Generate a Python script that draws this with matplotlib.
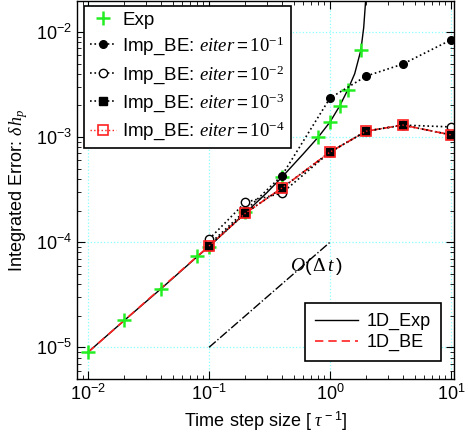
import numpy as np
import matplotlib
matplotlib.use("Agg")
from matplotlib import pyplot as plt
from matplotlib.ticker import LogLocator, NullFormatter

plt.rcParams['font.family'] = ['Liberation Sans', 'DejaVu Sans']
plt.rcParams['mathtext.fontset'] = 'custom'
plt.rcParams['mathtext.rm'] = 'Liberation Sans'
plt.rcParams['mathtext.it'] = 'Liberation Serif:italic'
plt.rcParams['mathtext.sf'] = 'Liberation Serif'
plt.rcParams['font.size'] = 13

# explicit scheme, markers
exp_dt = [0.01, 0.02, 0.04, 0.08, 0.1, 0.2, 0.4, 0.8, 1.0, 1.2, 1.4, 1.8]
exp_err = [9.0e-6, 1.81e-5, 3.56e-5, 7.4e-5, 9.1e-5, 1.93e-4, 4.16e-4,
           1.0e-3, 1.39e-3, 1.97e-3, 2.8e-3, 6.7e-3]

# implicit BE for several iteration tolerances
imp_dt = [0.1, 0.2, 0.4, 1.0, 2.0, 4.0, 10.0]
imp_e1 = [9.5e-5, 2.0e-4, 4.3e-4, 2.35e-3, 3.81e-3, 4.95e-3, 8.4e-3]
imp_e2 = [1.07e-4, 2.4e-4, 2.93e-4, 7.2e-4, 1.14e-3, 1.30e-3, 1.25e-3]
imp_e3 = [9.2e-5, 1.89e-4, 3.27e-4, 7.2e-4, 1.14e-3, 1.30e-3, 1.05e-3]
imp_e4 = [9.2e-5, 1.89e-4, 3.27e-4, 7.2e-4, 1.14e-3, 1.30e-3, 1.05e-3]

# 1D reference curves
ref_exp_dt = [0.01, 0.02, 0.04, 0.08, 0.1, 0.2, 0.3, 0.4, 0.6, 0.8, 1.0,
              1.2, 1.4, 1.6, 1.8, 1.9, 2.0]
ref_exp_err = [9.0e-6, 1.81e-5, 3.6e-5, 7.3e-5, 9.1e-5, 1.9e-4, 2.95e-4,
               4.15e-4, 6.9e-4, 1.0e-3, 1.39e-3, 1.97e-3, 2.8e-3, 4.0e-3,
               6.7e-3, 1.1e-2, 2.5e-2]
ref_be_dt = [0.01, 0.1, 0.2, 0.4, 1.0, 2.0, 4.0, 10.0]
ref_be_err = [9.0e-6, 9.2e-5, 1.89e-4, 3.27e-4, 7.2e-4, 1.14e-3, 1.30e-3, 1.05e-3]

# first order slope guide
slope_dt = [0.1, 1.0]
slope_err = [1e-5, 1e-4]

fig = plt.figure(figsize=(4.68, 4.36), dpi=100)
ax = fig.add_axes([77/468, 1-379/436, 377/468, 378/436])

l_exp, = ax.plot(ref_exp_dt, ref_exp_err, '-', color='k', lw=1.0)
l_be, = ax.plot(ref_be_dt, ref_be_err, '--', color='#ff2020', lw=1.2, dashes=(5, 3))

m_exp, = ax.plot(exp_dt, exp_err, '+', color='#22ee22', ms=10, mew=1.8, ls='none')
m1, = ax.plot(imp_dt, imp_e1, ':', color='k', marker='o', ms=5.5, mfc='k', lw=1.2)
m2, = ax.plot(imp_dt, imp_e2, ':', color='k', marker='o', ms=6, mfc='white', lw=1.2)
m3, = ax.plot(imp_dt, imp_e3, ':', color='k', marker='s', ms=5.5, mfc='k', lw=1.2)
m4, = ax.plot(imp_dt, imp_e4, ':', color='#ff2020', marker='s', ms=7, mfc='none',
              mec='#ff2020', mew=1.2, lw=1.0)

ax.plot(slope_dt, slope_err, '-.', color='k', lw=1.0)
ax.text(0.78, 5.9e-5, r'$O(\,\mathsf{\Delta}\, t\,)$', ha='center', va='center', fontsize=14)

ax.set_xscale('log')
ax.set_yscale('log')
ax.set_xlim(0.0081, 10.6)
ax.set_ylim(5.0e-6, 0.0197)

ax.xaxis.set_minor_locator(LogLocator(base=10, subs=np.arange(2, 10), numticks=20))
ax.yaxis.set_minor_locator(LogLocator(base=10, subs=np.arange(2, 10), numticks=20))
ax.xaxis.set_minor_formatter(NullFormatter())
ax.yaxis.set_minor_formatter(NullFormatter())
ax.tick_params(which='both', direction='in', top=True, right=True)
ax.tick_params(which='major', length=6, labelsize=13)
ax.tick_params(which='minor', length=3)
for s in ax.spines.values():
    s.set_linewidth(1.0)

ax.grid(True, which='major', color='#88ffff', ls=':', lw=0.9)

ax.set_xlabel(r'Time step size $[\ \mathit{\tau}^{\,-1}]$', fontsize=13)
ax.set_ylabel(r'Integrated Error: $\mathit{\delta\, h_p}$', fontsize=13)

leg1 = ax.legend([m_exp, m1, m2, m3, m4],
                 ['Exp',
                  r'Imp_BE: $eiter = \mathsf{10^{-1}}$',
                  r'Imp_BE: $eiter = \mathsf{10^{-2}}$',
                  r'Imp_BE: $eiter = \mathsf{10^{-3}}$',
                  r'Imp_BE: $eiter = \mathsf{10^{-4}}$'],
                 loc='upper left', bbox_to_anchor=(84/468, 1-6/436),
                 bbox_transform=fig.transFigure, borderaxespad=0,
                 fancybox=False, edgecolor='k', framealpha=1,
                 handlelength=1.4, handletextpad=0.35, labelspacing=0.3,
                 borderpad=0.3, fontsize=13.5)
leg1.get_frame().set_linewidth(1.2)
ax.add_artist(leg1)

leg2 = ax.legend([l_exp, l_be], ['1D_Exp', '1D_BE'],
                 loc='lower right', bbox_to_anchor=(441/468, 1-361/436),
                 bbox_transform=fig.transFigure, borderaxespad=0,
                 fancybox=False, edgecolor='k', framealpha=1,
                 handlelength=2.4, handletextpad=0.5, labelspacing=0.2,
                 borderpad=0.55, fontsize=13)
leg2.get_frame().set_linewidth(1.2)

fig.savefig('out.png', dpi=100)
